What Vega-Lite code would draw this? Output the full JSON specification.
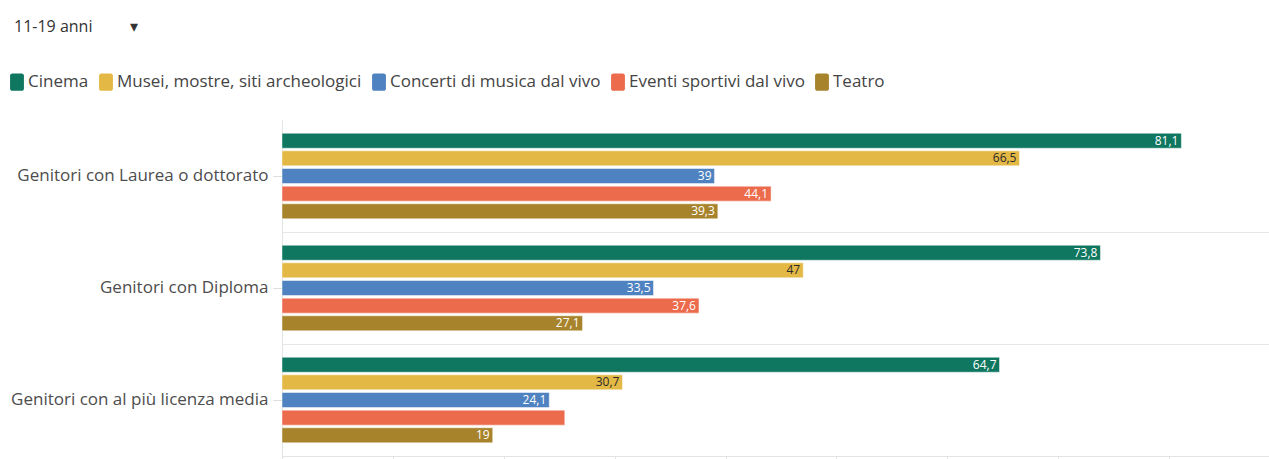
{
  "$schema": "https://vega.github.io/schema/vega-lite/v6.json",
  "autosize": {"type": "none"},
  "padding": {"left": 282, "top": 120, "right": 0, "bottom": 3},
  "width": 987,
  "height": 336,
  "background": "#ffffff",
  "title": {
    "text": "11-19 anni\u00a0\u00a0\u00a0\u00a0\u00a0\u00a0\u00a0\u00a0\u00a0\u25be",
    "anchor": "start",
    "frame": "group",
    "dx": -268,
    "offset": 38,
    "fontSize": 16,
    "fontWeight": "normal",
    "color": "#333333",
    "font": "Open Sans"
  },
  "config": {
    "locale": {
      "number": {"decimal": ",", "thousands": ".", "grouping": [3], "currency": ["", " €"]}
    },
    "view": {"stroke": null},
    "font": "Open Sans"
  },
  "data": {
    "values": [
      {"gruppo": "Genitori con Laurea o dottorato", "attivita": "Cinema", "valore": 81.1},
      {"gruppo": "Genitori con Laurea o dottorato", "attivita": "Musei, mostre, siti archeologici", "valore": 66.5},
      {"gruppo": "Genitori con Laurea o dottorato", "attivita": "Concerti di musica dal vivo", "valore": 39},
      {"gruppo": "Genitori con Laurea o dottorato", "attivita": "Eventi sportivi dal vivo", "valore": 44.1},
      {"gruppo": "Genitori con Laurea o dottorato", "attivita": "Teatro", "valore": 39.3},
      {"gruppo": "Genitori con Diploma", "attivita": "Cinema", "valore": 73.8},
      {"gruppo": "Genitori con Diploma", "attivita": "Musei, mostre, siti archeologici", "valore": 47},
      {"gruppo": "Genitori con Diploma", "attivita": "Concerti di musica dal vivo", "valore": 33.5},
      {"gruppo": "Genitori con Diploma", "attivita": "Eventi sportivi dal vivo", "valore": 37.6},
      {"gruppo": "Genitori con Diploma", "attivita": "Teatro", "valore": 27.1},
      {"gruppo": "Genitori con al più licenza media", "attivita": "Cinema", "valore": 64.7},
      {"gruppo": "Genitori con al più licenza media", "attivita": "Musei, mostre, siti archeologici", "valore": 30.7},
      {"gruppo": "Genitori con al più licenza media", "attivita": "Concerti di musica dal vivo", "valore": 24.1},
      {"gruppo": "Genitori con al più licenza media", "attivita": "Eventi sportivi dal vivo", "valore": 25.5},
      {"gruppo": "Genitori con al più licenza media", "attivita": "Teatro", "valore": 19}
    ]
  },
  "layer": [
    {
      "mark": {"type": "bar", "stroke": "#ffffff", "strokeWidth": 0.6, "strokeOpacity": 0.8},
      "encoding": {
        "x": {
          "field": "valore", "type": "quantitative",
          "scale": {"domain": [0, 89], "nice": false, "zero": true},
          "axis": {"title": null, "labels": false, "grid": false, "values": [0, 10, 20, 30, 40, 50, 60, 70, 80], "tickSize": 5, "tickColor": "#e3e3e3", "domainColor": "#e3e3e3"}
        },
        "y": {
          "field": "gruppo", "type": "nominal",
          "sort": ["Genitori con Laurea o dottorato", "Genitori con Diploma", "Genitori con al più licenza media"],
          "scale": {"paddingInner": 0, "paddingOuter": 0},
          "axis": {"title": null, "labelFontSize": 17, "labelColor": "#4d4d4d", "labelFont": "Open Sans", "tickSize": 9, "tickColor": "#dddddd", "domainColor": "#e3e3e3", "labelPadding": 5, "grid": false, "labelLimit": 300}
        },
        "yOffset": {
          "field": "attivita", "type": "nominal",
          "sort": ["Cinema", "Musei, mostre, siti archeologici", "Concerti di musica dal vivo", "Eventi sportivi dal vivo", "Teatro"],
          "scale": {"paddingInner": 0.15, "paddingOuter": 0.75}
        },
        "color": {
          "field": "attivita", "type": "nominal",
          "scale": {
            "domain": ["Cinema", "Musei, mostre, siti archeologici", "Concerti di musica dal vivo", "Eventi sportivi dal vivo", "Teatro"],
            "range": ["#0f7660", "#e3b844", "#4e82c0", "#ec6b4c", "#a7832c"]
          },
          "legend": {
            "title": null,
            "orient": "none",
            "legendX": -274,
            "legendY": -47,
            "direction": "horizontal",
            "padding": 0,
            "labelFontSize": 17,
            "labelColor": "#444444",
            "labelFont": "Open Sans",
            "labelLimit": 400,
            "symbolType": "M-0.55,-1H0.55A0.25,0.25,0,0,1,0.8,-0.75V0.75A0.25,0.25,0,0,1,0.55,1H-0.55A0.25,0.25,0,0,1,-0.8,0.75V-0.75A0.25,0.25,0,0,1,-0.55,-1Z",
            "symbolSize": 300,
            "symbolStrokeWidth": 0,
            "symbolOpacity": 1,
            "columnPadding": 8,
            "labelOffset": 2
          }
        }
      }
    },
    {
      "transform": [
        {"filter": "!(datum.gruppo === 'Genitori con al più licenza media' && datum.attivita === 'Eventi sportivi dal vivo')"}
      ],
      "mark": {"type": "text", "align": "right", "baseline": "middle", "dx": -3, "fontSize": 12, "font": "Open Sans"},
      "encoding": {
        "x": {
          "field": "valore", "type": "quantitative",
          "scale": {"domain": [0, 89], "nice": false, "zero": true},
          "axis": {"title": null, "labels": false, "grid": false, "values": [0, 10, 20, 30, 40, 50, 60, 70, 80], "tickSize": 5, "tickColor": "#e3e3e3", "domainColor": "#e3e3e3"}
        },
        "y": {
          "field": "gruppo", "type": "nominal",
          "sort": ["Genitori con Laurea o dottorato", "Genitori con Diploma", "Genitori con al più licenza media"],
          "scale": {"paddingInner": 0, "paddingOuter": 0},
          "axis": {
            "orient": "right", "title": null, "labels": false, "ticks": false, "domain": false,
            "grid": true, "bandPosition": 0, "gridColor": "#e6e6e6",
            "gridOpacity": {"condition": {"test": "datum.value === 'Genitori con Laurea o dottorato'", "value": 0}, "value": 1}
          }
        },
        "yOffset": {
          "field": "attivita", "type": "nominal",
          "sort": ["Cinema", "Musei, mostre, siti archeologici", "Concerti di musica dal vivo", "Eventi sportivi dal vivo", "Teatro"],
          "scale": {"paddingInner": 0.15, "paddingOuter": 0.75}
        },
        "text": {"field": "valore", "type": "quantitative", "format": ".1~f"},
        "color": {
          "condition": {"test": "datum.attivita === 'Musei, mostre, siti archeologici'", "value": "#2a2a2a"},
          "value": "#ffffff"
        }
      }
    }
  ],
  "resolve": {"axis": {"y": "independent"}}
}
